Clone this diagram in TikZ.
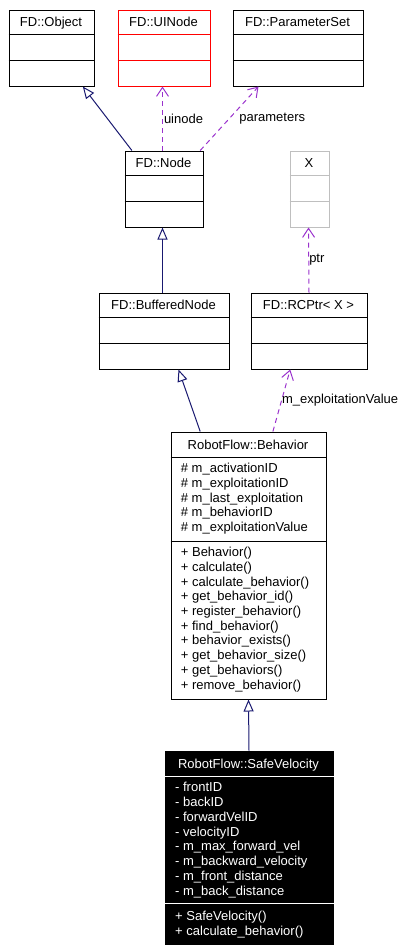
\documentclass[tikz,border=0pt]{standalone}
\usepackage{fontspec}
\setmainfont{Liberation Sans}
\usetikzlibrary{arrows.meta}
\definecolor{inherit}{HTML}{191970}
\definecolor{usage}{HTML}{9A32CD}
\definecolor{faded}{HTML}{BFBFBF}
\definecolor{alert}{HTML}{FF0000}

\begin{document}
\begin{tikzpicture}[
  x=1pt,y=-1pt,
  font=\fontsize{13}{15}\selectfont,
  classbox/.style={draw,line width=1pt,inner sep=0pt,anchor=north west},
  member/.style={inner sep=0pt,anchor=base west},
  classname/.style={inner sep=0pt,anchor=base},
  isa/.style={-{Triangle[open,length=12pt,width=10pt]},draw=inherit,line width=1pt},
  uses/.style={-{Straight Barb[length=9pt,width=12pt]},draw=usage,line width=1pt,
    dash pattern=on 5pt off 4pt},
  role/.style={inner sep=0pt,anchor=west}
]
  \useasboundingbox (0,0) rectangle (410,951);

  \foreach \n/\x/\y/\w/\col/\t in {
      obj/8.5/9.5/85/black/FD::Object,
      uinode/117.5/9.5/92/alert/FD::UINode,
      params/232.5/9.5/130/black/FD::ParameterSet,
      fdnode/124.5/150.5/78/black/FD::Node,
      xarg/289.5/150.5/39/faded/X,
      buffered/98.5/292.5/130/black/FD::BufferedNode,
      rcptr/250.5/292.5/116/black/FD::RCPtr< X >}{
    \node[classbox,draw=\col,minimum width=\w,minimum height=76] (\n) at (\x,\y) {};
    \draw[draw=\col,line width=1pt] ([yshift=-25pt]\n.north west) -- ([yshift=-25pt]\n.north east);
    \draw[draw=\col,line width=1pt] ([yshift=-51pt]\n.north west) -- ([yshift=-51pt]\n.north east);
    \node[classname] (\n-title) at ({\x+\w/2},{\y+17.3}) {\t};
  }

  \node[classbox,minimum width=155,minimum height=267] (behavior) at (170.5,431.5) {};
  \draw[line width=1pt] ([yshift=-26pt]behavior.north west) -- ([yshift=-26pt]behavior.north east);
  \draw[line width=1pt] ([yshift=-110pt]behavior.north west) -- ([yshift=-110pt]behavior.north east);
  \node[classname] (behavior-title) at (248,449) {RobotFlow::Behavior};
  \foreach \t [count=\i from 0] in {\# m\_activationID,\# m\_exploitationID,
      \# m\_last\_exploitation,\# m\_behaviorID,\# m\_exploitationValue}
    \node[member] (behavior-a\i) at (180.7,{472.3+14.85*\i}) {\t};
  \foreach \t [count=\i from 0] in {+ Behavior(),+ calculate(),+ calculate\_behavior(),
      + get\_behavior\_id(),+ register\_behavior(),+ find\_behavior(),+ behavior\_exists(),
      + get\_behavior\_size(),+ get\_behaviors(),+ remove\_behavior()}
    \node[member] (behavior-m\i) at (180.7,{556.7+14.7*\i}) {\t};

  \node[classbox,fill=black,minimum width=168,minimum height=193] (safevel) at (164.5,750.5) {};
  \draw[white,line width=1pt] ([yshift=-26pt]safevel.north west) -- ([yshift=-26pt]safevel.north east);
  \draw[white,line width=1pt] ([yshift=-153pt]safevel.north west) -- ([yshift=-153pt]safevel.north east);
  \node[classname,text=white] (safevel-title) at (248.5,768.3) {RobotFlow::SafeVelocity};
  \foreach \t [count=\i from 0] in {- frontID,- backID,- forwardVelID,- velocityID,
      - m\_max\_forward\_vel,- m\_backward\_velocity,- m\_front\_distance,- m\_back\_distance}
    \node[member,text=white] (safevel-a\i) at (175,{791.7+14.8*\i}) {\t};
  \foreach \t [count=\i from 0] in {+ SafeVelocity(),+ calculate\_behavior()}
    \node[member,text=white] (safevel-m\i) at (175,{920.5+14.6*\i}) {\t};

  \draw[isa] ([xshift=7.4pt]fdnode.north west) -- ([xshift=-11.7pt]obj.south east);
  \draw[uses] ([xshift=38pt]fdnode.north west) -- ([xshift=45pt]uinode.south west)
    node[role,pos=.5,xshift=1pt] (uinode-role) {uinode};
  \draw[uses] ([xshift=-3.3pt]fdnode.north east) -- ([xshift=26pt]params.south west)
    node[role,pos=.5,xshift=9.5pt] (params-role) {parameters};
  \draw[isa] ([xshift=64pt]buffered.north west) -- ([xshift=38pt]fdnode.south west);
  \draw[uses] (rcptr.north) -- ([xshift=19pt]xarg.south west)
    node[role,pos=.5] (xarg-role) {ptr};
  \draw[isa] ([xshift=29.7pt]behavior.north west) -- ([xshift=80pt]buffered.south west);
  \draw[uses] ([xshift=102.4pt]behavior.north west) -- ([xshift=39.7pt]rcptr.south west)
    node[role,pos=.5] (rcptr-role) {m\_exploitationValue};
  \draw[isa] (safevel.north) -- ([xshift=78pt]behavior.south west);
\end{tikzpicture}
\end{document}
